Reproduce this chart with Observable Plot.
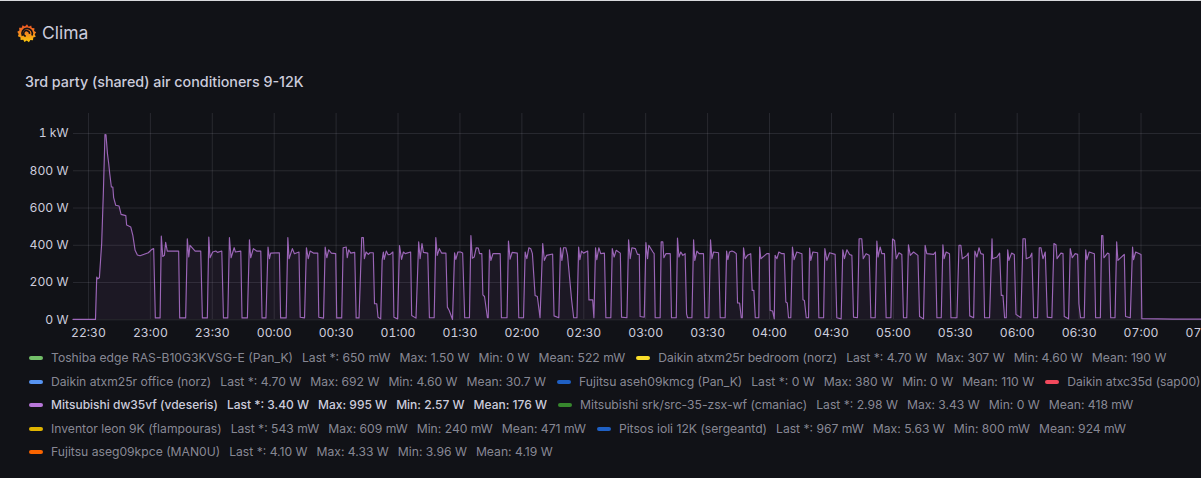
<!DOCTYPE html>
<html><head><meta charset="utf-8">
<script src="https://cdn.jsdelivr.net/npm/d3@7"></script>
<script src="https://cdn.jsdelivr.net/npm/@observablehq/plot@0.6"></script>
<style>
html,body{margin:0;padding:0;background:#111217;width:1201px;height:478px;overflow:hidden;font-family:Inter,"Noto Sans",sans-serif;color:#ccccdc}
#topline{position:absolute;left:0;top:0;width:1201px;height:1px;background:#d8d9dc}
#logo{position:absolute;left:16.500px;top:23px;width:20px;height:20px}
#title{position:absolute;left:42px;top:22px;font-size:17.5px;line-height:22px;color:#ccccdc}
#sub{position:absolute;left:25px;top:73px;font-size:14.3px;line-height:18px;font-weight:500;color:#ccccdc;white-space:nowrap}
#chart{position:absolute;left:0;top:0}
#chart svg{overflow:visible;display:block;max-width:none !important}
.row{position:absolute;left:29px;display:flex;white-space:nowrap;font-size:12.15px;line-height:16px;color:rgba(204,204,220,.65)}
.item{display:flex;align-items:center;margin-right:11px}
.sw{width:14px;height:4px;border-radius:2px;margin-right:8px}
.f{margin-right:9px}.f:last-child{margin-right:0}
.hi{color:#ccccdc;font-weight:500;font-size:12px}
</style></head><body>
<div id="topline"></div>
<svg id="logo" viewBox="0 0 24 24"><defs><linearGradient id="g" x1="0" y1="1" x2="0" y2="0"><stop offset="0" stop-color="#fbca0a"/><stop offset=".55" stop-color="#f58220"/><stop offset="1" stop-color="#ef4f23"/></linearGradient></defs>
<path fill="url(#g)" d="M12 1.500l2 2.900 3-1.400.8 3.100 3.200.2-.5 3.200 2.500 1.500-1.800 2.600 1.300 2.900-3 1-.3 3.200-3.200-.4-1.700 2.700-2.600-1.900-2.700 1.800-1.500-2.800-3.200.3-.2-3.200-3-1.200L2 13.200.3 10.600l2.600-1.600-.4-3.200 3.200-.1L6.600 2.600l2.900 1.500z"/>
<path d="M6.500 15.500A6.300 6.300 0 1 1 18 15" fill="none" stroke="#111217" stroke-width="2"/><path d="M10.500 16A3.500 3.500 0 1 1 15 13" fill="none" stroke="#111217" stroke-width="1.800"/></svg>
<div id="title">Clima</div>
<div id="sub">3rd party (shared) air conditioners 9-12K</div>
<div id="chart"></div>
<div id="legend"></div>
<script>
// [minutes after 22:30, watts]
const readings = [
[-7.5,2],[3.4,2],[4.0,229],[4.5,220],[5.3,226],[6.4,409],[7.2,677],[8.0,995],[8.5,993],[9.2,892],[9.8,839],[10.3,785],[11.1,713],[11.8,713],[12.2,656],[13.2,615],[14.8,611],[15.8,566],[18.1,559],[18.5,509],[20.5,498],[21.5,453],[22.6,373],[23.7,348],[25.0,344],[29.0,360],[30.7,378],[31.6,382],[32.4,10],
[34.7,10],[35.3,450],[36.0,340],[36.8,346],[37.4,416],[38.2,369],[43.7,369],[44.2,10],
[47.1,10],[47.9,435],[48.6,337],[49.2,400],[51.7,369],[54.4,369],[55.2,10],
[57.6,10],[58.3,444],[58.9,333],[60.2,364],[61.7,369],[62.5,362],[64.6,369],[65.4,10],
[67.5,10],[68.3,441],[69.1,333],[70.6,387],[71.2,364],[73.8,369],[74.4,10],
[77.0,10],[78.0,430],[78.6,333],[79.9,382],[81.5,369],[83.5,369],[84.1,10],
[86.0,10],[87.0,391],[87.7,328],[88.3,358],[92.5,360],[93.1,10],
[95.8,10],[96.6,441],[97.2,328],[98.8,382],[99.8,355],[102.0,364],[102.6,14],
[104.7,10],[105.6,387],[106.5,328],[107.4,369],[109.0,358],[111.1,358],[111.6,14],
[113.9,9],[114.7,391],[115.5,333],[116.4,376],[117.7,358],[119.8,355],[120.3,10],
[122.7,10],[123.4,387],[124.9,391],[125.4,333],[126.1,376],[127.1,358],[129.0,362],[129.7,10],
[131.1,10],[132.4,441],[133.2,441],[133.7,328],[134.5,364],[135.6,351],[136.4,360],[138.0,360],[138.6,86],[139.7,86],[140.3,14],[141.6,5],
[142.3,319],[142.9,364],[143.3,324],[144.3,369],[145.2,349],[146.2,351],[147.5,364],[148.0,14],[149.8,5],
[150.7,398],[151.7,324],[152.6,364],[153.5,355],[156.1,364],[156.6,23],[158.7,9],
[160.0,418],[160.7,328],[161.6,409],[162.3,362],[164.4,358],[165.2,11],[167.5,11],
[168.3,441],[169.0,346],[170.0,382],[171.1,358],[173.2,358],[173.9,68],[174.8,50],[176.4,2],
[177.4,360],[178.0,324],[179.0,364],[180.3,364],[181.3,358],[182.3,11],[184.6,11],
[185.3,452],[186.0,331],[186.9,337],[187.9,387],[188.9,385],[189.5,355],[190.6,355],[191.1,134],[191.9,125],[193.3,11],[193.7,11],
[194.3,376],[195.0,319],[196.0,355],[199.5,355],[200.1,11],[202.8,11],
[203.5,423],[204.3,326],[205.3,362],[207.8,358],[208.5,11],[210.8,11],
[211.6,364],[212.4,328],[213.4,387],[214.3,382],[215.1,355],[216.4,131],[217.5,125],[218.8,11],
[220.1,409],[220.9,319],[222.0,346],[224.9,353],[225.6,21],[227.9,11],
[228.7,387],[229.4,319],[230.2,387],[231.3,387],[232.1,349],[234.1,107],[235.1,11],[236.7,11],
[237.5,391],[238.1,323],[238.9,369],[239.9,358],[241.9,369],[242.5,107],[244.3,107],[244.9,11],
[245.7,387],[246.3,323],[247.3,387],[248.2,355],[250.0,358],[250.7,11],[253.1,11],
[253.8,382],[254.7,337],[255.7,373],[257.7,358],[258.3,14],[260.9,11],
[261.7,430],[262.5,328],[263.3,387],[265.0,382],[266.0,351],[266.9,351],[267.3,18],[269.3,14],
[270.1,414],[270.9,328],[271.5,400],[273.5,364],[274.1,355],[274.6,11],[277.0,11],
[277.5,418],[278.3,418],[278.8,333],[279.8,355],[281.9,355],[282.5,11],[284.8,11],
[285.4,439],[286.1,337],[287.0,364],[288.0,346],[289.1,355],[289.8,32],[290.3,11],[292.4,11],
[293.2,430],[293.8,319],[294.8,369],[295.9,355],[298.0,355],[298.7,11],[300.6,11],
[301.4,430],[302.1,328],[302.9,364],[305.3,360],[306.1,11],[308.5,11],
[309.2,369],[309.8,323],[310.6,364],[311.8,369],[312.9,364],[313.9,355],[314.5,90],[315.5,90],[316.3,11],[316.8,11],
[317.4,387],[318.2,328],[319.3,346],[320.9,355],[321.6,158],[322.4,158],[323.1,11],[324.8,11],
[325.2,391],[325.8,328],[328.7,355],[329.8,355],[330.3,50],[331.5,47],[332.3,5],
[332.7,346],[333.6,328],[334.5,364],[336.0,355],[337.1,355],[337.9,95],[338.6,90],[339.2,11],[340.3,11],
[341.1,391],[341.9,323],[343.2,364],[345.7,355],[346.2,108],[346.9,104],[347.8,11],[348.9,11],
[349.4,385],[350.0,319],[351.0,364],[353.3,360],[353.9,11],[356.2,11],
[356.8,382],[357.8,319],[359.1,360],[361.8,351],[362.6,11],[364.7,5],
[365.5,376],[366.3,328],[367.5,376],[368.8,351],[369.9,346],[370.7,14],[372.6,11],
[373.4,435],[374.7,435],[375.4,328],[376.8,355],[378.3,346],[379.1,11],[381.2,11],
[382.0,423],[382.6,337],[383.6,391],[384.4,355],[385.7,355],[386.5,11],[388.8,11],
[389.6,434],[390.6,426],[391.4,328],[392.7,360],[394.1,351],[394.9,11],[396.5,11],
[397.3,403],[398.2,346],[399.8,364],[401.9,346],[402.7,18],[404.6,5],
[405.4,400],[406.2,355],[409.5,351],[410.4,364],[411.1,11],[413.2,11],
[414.0,403],[414.6,328],[415.6,364],[417.2,355],[417.9,11],[420.8,11],
[421.8,400],[422.7,400],[423.4,328],[425.7,346],[426.3,358],[427.0,21],[428.9,11],
[429.5,369],[430.5,337],[431.5,387],[432.4,355],[433.6,351],[434.2,11],[436.6,11],
[437.8,435],[438.1,328],[440.2,337],[441.5,358],[442.3,131],[443.1,131],[443.9,11],[444.7,11],
[445.4,376],[446.0,319],[447.3,358],[448.6,351],[449.4,29],[451.8,11],
[452.8,435],[453.9,435],[454.4,328],[456.3,337],[457.1,358],[458.0,11],[459.9,11],
[460.7,387],[461.5,387],[462.5,328],[463.6,364],[464.6,14],[466.8,11],
[467.8,409],[468.8,403],[469.3,328],[471.2,358],[472.2,355],[472.8,18],[474.9,5],
[475.7,382],[476.7,333],[478.1,355],[479.3,351],[479.9,86],[480.7,11],[482.5,11],
[483.2,376],[483.8,323],[484.9,364],[487.4,355],[488.0,11],[490.3,11],
[490.9,452],[491.5,452],[492.0,333],[493.8,358],[494.5,355],[495.3,11],[497.4,11],
[498.2,418],[498.8,319],[501.9,351],[502.5,18],[504.8,11],
[505.9,391],[506.4,323],[507.4,364],[510.0,351],[510.4,6],[525.5,4],[539.2,3.4]
];
const tickMinutes = [0,30,60,90,120,150,180,210,240,270,300,330,360,390,420,450,480,510,540];
const yTicks = [0,200,400,600,800,1000];
const seriesNames = ["Toshiba edge RAS-B10G3KVSG-E (Pan_K)","Daikin atxm25r bedroom (norz)","Daikin atxm25r office (norz)","Fujitsu aseh09kmcg (Pan_K)","Daikin atxc35d (sap00)","Mitsubishi dw35vf (vdeseris)","Mitsubishi srk/src-35-zsx-wf (cmaniac)","Inventor leon 9K (flampouras)","Pitsos ioli 12K (sergeantd)","Fujitsu aseg09kpce (MAN0U)"];
const seriesColors = ["#73bf69","#fade2a","#5794f2","#1f60c4","#f2495c","#b877d9","#37872d","#e0b400","#1f60c4","#fa6400"];
const lastVals = ["650 mW","4.70 W","4.70 W","0 W","","3.40 W","2.98 W","543 mW","967 mW","4.10 W"];
const maxVals = ["1.50 W","307 W","692 W","380 W","","995 W","3.43 W","609 mW","5.63 W","4.33 W"];
const minVals = ["0 W","4.60 W","4.60 W","0 W","","2.57 W","0 W","240 mW","800 mW","3.96 W"];
const meanVals = ["522 mW","190 W","30.7 W","110 W","","176 W","418 mW","471 mW","924 mW","4.19 W"];
const legendRows = [[0,1],[2,3,4],[5,6],[7,8],[9]];
const rowTops = [350,374,397,421,444];

const base = Date.UTC(2024,0,1,22,30);
const toDate = m => new Date(base + m*60000);
const data = readings.map(([m,w]) => ({t:toDate(m), w}));

const chart = Plot.plot({
  width:1240, height:345, marginLeft:73, marginRight:0, marginTop:113, marginBottom:26,
  style:{background:"transparent",color:"#ccccdc",fontFamily:"Inter, sans-serif",fontSize:"12.2px"},
  x:{type:"utc",domain:[toDate(-7.25),toDate(558.2)]},
  y:{domain:[0,1107.5],range:[319.3,113]},
  marks:[
    Plot.gridX(tickMinutes.map(toDate),{stroke:"#ccccdc",strokeOpacity:.13,strokeWidth:1}),
    Plot.gridY(yTicks,{stroke:"#ccccdc",strokeOpacity:.13,strokeWidth:1}),
    Plot.axisX({ticks:tickMinutes.map(toDate),tickSize:0,tickPadding:9,tickFormat:d3.utcFormat("%H:%M"),label:null,fill:"#ccccdc"}),
    Plot.axisY({ticks:yTicks,tickSize:0,tickPadding:5,tickFormat:d=>d>=1000?(d/1000)+" kW":d+" W",label:null,fill:"#ccccdc"}),
    Plot.areaY(data,{x:"t",y:"w",fill:"#b877d9",fillOpacity:.07}),
    Plot.lineY(data,{x:"t",y:"w",stroke:"#b877d9",strokeWidth:1.15,strokeOpacity:.82,curve:"linear"})
  ]
});
document.getElementById("chart").append(chart);

const leg = document.getElementById("legend");
legendRows.forEach((r,ri)=>{
  const row = document.createElement("div"); row.className="row"; row.style.top=rowTops[ri]+"px";
  r.forEach(i=>{
    const it = document.createElement("div"); it.className="item"+(i===5?" hi":"");
    const sw = document.createElement("div"); sw.className="sw"; sw.style.background=seriesColors[i]; it.append(sw);
    const fields = [seriesNames[i]];
    if(lastVals[i]) fields.push("Last *: "+lastVals[i],"Max: "+maxVals[i],"Min: "+minVals[i],"Mean: "+meanVals[i]);
    fields.forEach(f=>{const s=document.createElement("span");s.className="f";s.textContent=f;it.append(s);});
    row.append(it);
  });
  leg.append(row);
});
</script></body></html>
